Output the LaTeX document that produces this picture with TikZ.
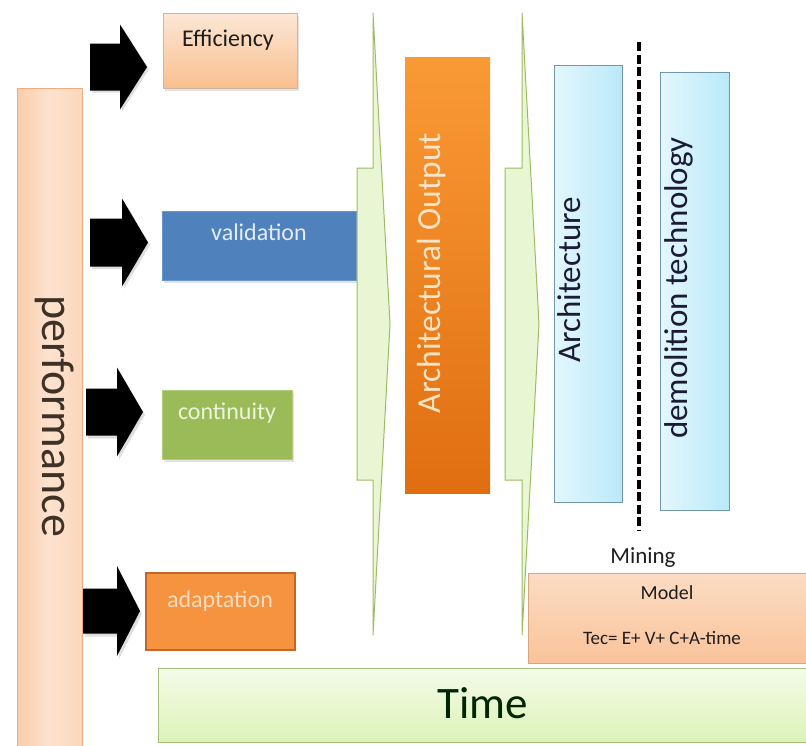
\documentclass[tikz,border=0pt]{standalone}
\usepackage{fontspec}
\setmainfont{Carlito}
\usetikzlibrary{shadows}

\definecolor{perfL}{HTML}{FBCDAA}
\definecolor{perfM}{HTML}{FDE2CF}
\definecolor{perfEdge}{HTML}{F0AC7E}
\definecolor{peachTop}{HTML}{FCE7D6}
\definecolor{peachBot}{HTML}{F9BF8E}
\definecolor{valBlue}{HTML}{4F81BD}
\definecolor{valEdge}{HTML}{6A96CC}
\definecolor{valText}{HTML}{E4ECF6}
\definecolor{contGreen}{HTML}{9BBB59}
\definecolor{contEdge}{HTML}{B3CD7E}
\definecolor{contText}{HTML}{EEF4DC}
\definecolor{adaptOrange}{HTML}{F5933F}
\definecolor{adaptEdge}{HTML}{C4652C}
\definecolor{adaptText}{HTML}{FCDCC0}
\definecolor{outTop}{HTML}{F99A35}
\definecolor{outBot}{HTML}{E06E10}
\definecolor{outText}{HTML}{FCE3C6}
\definecolor{cyanL}{HTML}{E3F7FD}
\definecolor{cyanR}{HTML}{BAE9F9}
\definecolor{cyanEdge}{HTML}{6F97A6}
\definecolor{paleGreen}{HTML}{E9F6D4}
\definecolor{greenEdge}{HTML}{9DBB61}
\definecolor{timeTop}{HTML}{F4FBE8}
\definecolor{timeBot}{HTML}{DCF3B8}
\definecolor{timeEdge}{HTML}{A3BE7A}
\definecolor{modelTop}{HTML}{FCDCC3}
\definecolor{modelBot}{HTML}{F9C39A}
\definecolor{modelEdge}{HTML}{D9A57C}
\definecolor{ink}{HTML}{1E1E1E}

% right-pointing block arrow: back x, head-base x, tip x, mid y, half shaft, half head
\newcommand{\blockarrow}[7]{%
  \path[#7] (#1,{#4-#5}) -- (#2,{#4-#5}) -- (#2,{#4-#6}) -- (#3,#4)
    -- (#2,{#4+#6}) -- (#2,{#4+#5}) -- (#1,{#4+#5}) -- cycle;}

\begin{document}
\begin{tikzpicture}[x=1pt,y=-1pt,
  panel/.style={rectangle, inner sep=0pt, outer sep=0pt},
  softshadow/.style={drop shadow={opacity=0.22, shadow xshift=2pt, shadow yshift=-2.5pt}},
  blackarrow/.style={fill=black},
  arrowhalo/.style={fill=black!35, opacity=0.35},
  greenarrow/.style={fill=paleGreen, draw=greenEdge, line width=1pt, line join=miter},
  cyanbox/.style={panel, left color=cyanL, right color=cyanR, draw=cyanEdge, line width=1pt},
  lbl/.style={inner sep=0pt, font=\fontsize{24}{28}\selectfont},
  vlbl/.style={inner sep=0pt, font=\fontsize{33}{38}\selectfont},
]
\useasboundingbox (0,0) rectangle (806,745);
\fill[white] (0,0) rectangle (806,745);

% performance bar on the left
\node[panel, minimum width=65pt, minimum height=664pt,
      left color=perfL, right color=perfL!80!white, middle color=perfM,
      draw=perfEdge, line width=0.8pt] (perf) at (49.5,420) {};

% block arrows from the performance bar
\blockarrow{92}{122}{149}{69}{23.5}{42.5}{arrowhalo}
\blockarrow{90}{120}{147}{67}{23.5}{42.5}{blackarrow}
\blockarrow{92}{124}{150}{245}{24}{44}{arrowhalo}
\blockarrow{90}{122}{148}{242.5}{24}{44}{blackarrow}
\blockarrow{88}{119}{145}{415}{23.5}{44.5}{arrowhalo}
\blockarrow{86}{117}{143}{412}{23.5}{44.5}{blackarrow}
\blockarrow{85}{119}{142}{614}{22.5}{45}{arrowhalo}
\blockarrow{83}{117}{140}{611}{22.5}{45}{blackarrow}

% the four performance factors
\node[panel, minimum width=134pt, minimum height=75pt, top color=peachTop,
      bottom color=peachBot, draw=peachBot!70!black!60, line width=0.6pt, softshadow]
      (eff) at (230,50.5) {};
\node[panel, minimum width=194pt, minimum height=69pt, fill=valBlue,
      draw=valEdge, line width=1pt, softshadow] (val) at (259,245.5) {};
\node[panel, minimum width=130pt, minimum height=69pt, fill=contGreen,
      draw=contEdge, line width=1pt, softshadow] (cont) at (227,424.5) {};
\node[panel, minimum width=149pt, minimum height=77pt, fill=adaptOrange,
      draw=adaptEdge, line width=1.2pt] (adapt) at (220.5,611.5) {};

\node[lbl, text=ink] at (228,40) {Efficiency};
\node[lbl, text=valText] at (259,232) {validation};
\node[lbl, text=contText] at (227,413) {continuity};
\node[lbl, text=adaptText] at (220,601) {adaptation};

% thin green arrows into and out of the output stage
\blockarrow{357}{373}{390}{324}{156}{311}{greenarrow}
\blockarrow{505}{522}{539}{324}{156}{311}{greenarrow}

% architectural output
\node[panel, minimum width=85pt, minimum height=436pt, top color=outTop,
      bottom color=outBot] (out) at (447.5,275) {};
\node[inner sep=0pt, rotate=90, text=outText, font=\fontsize{33.5}{38}\selectfont] at (432,273) {Architectural Output};

% architecture and demolition technology
\node[cyanbox, minimum width=68pt, minimum height=437pt] (arch) at (588,283.5) {};
\node[cyanbox, minimum width=69pt, minimum height=438pt] (demo) at (694.5,291) {};
\node[vlbl, rotate=90, text=ink!90!blue] at (569,280) {Architecture};
\node[vlbl, rotate=90, text=ink!90!blue] at (678.5,288) {demolition technology};

% dividing line
\coordinate (dtop) at (639,42);
\coordinate (dbot) at (639,530);
\draw[black, line width=4pt, dash pattern=on 9pt off 3.5pt] (dtop) -- (dbot);

\node[lbl, text=ink, font=\fontsize{23}{27}\selectfont] (mining) at (643,558) {Mining};

% model box
\node[panel, minimum width=282pt, minimum height=90pt, top color=modelTop,
      bottom color=modelBot, draw=modelEdge, line width=1pt] (model) at (669,618) {};
\node[lbl, text=ink, font=\fontsize{20}{24}\selectfont] at (667,593) {Model};
\node[lbl, text=ink, font=\fontsize{19}{23}\selectfont] at (662,638) {Tec= E+ V+ C+A-time};

% time axis
\node[panel, minimum width=652pt, minimum height=74pt, top color=timeTop,
      bottom color=timeBot, draw=timeEdge, line width=1pt] (time) at (484,705) {};
\node[inner sep=0pt, text=black!85!green, font=\fontsize{45}{50}\selectfont] at (483,703) {Time};

% performance label
\node[inner sep=0pt, rotate=-90, text=ink!80!brown, font=\fontsize{46}{52}\selectfont] at (55,416) {performance};
\end{tikzpicture}
\end{document}
